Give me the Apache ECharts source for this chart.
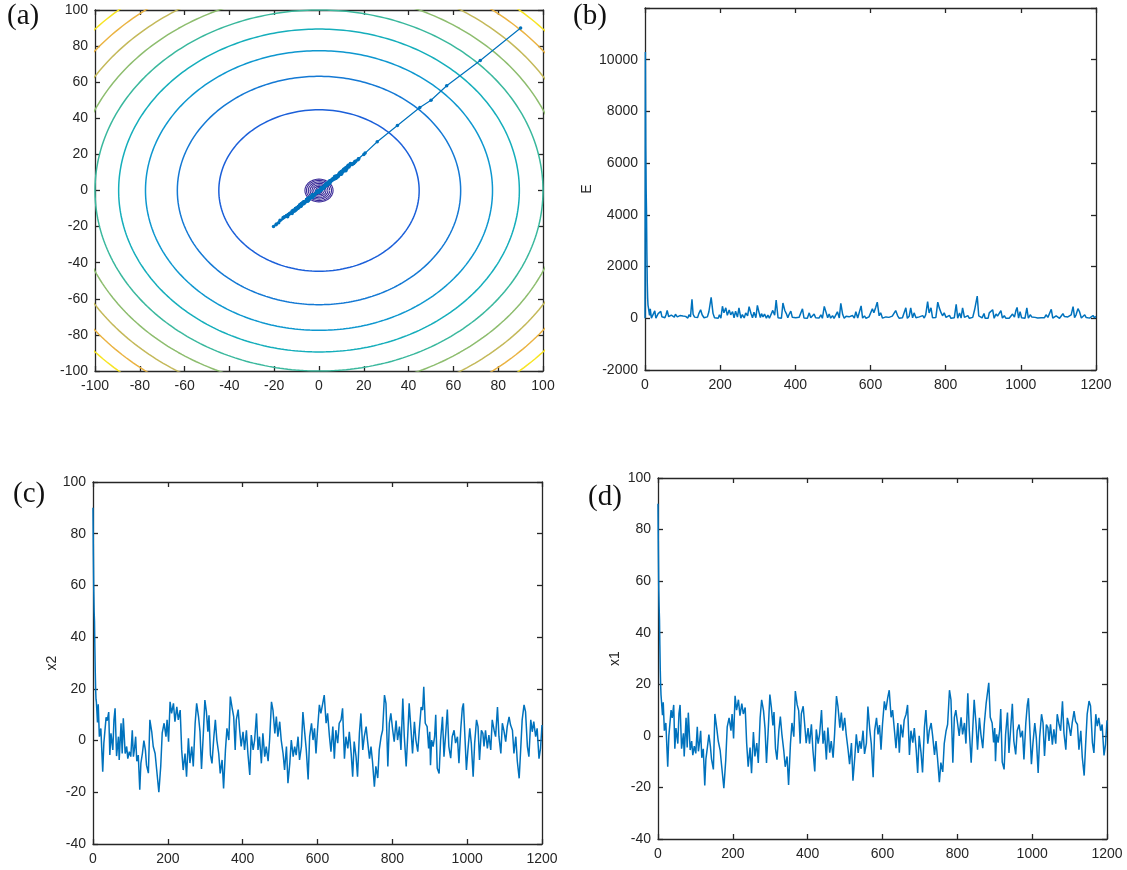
<!DOCTYPE html>
<html><head><meta charset="utf-8">
<script src="https://cdn.jsdelivr.net/npm/echarts@6/dist/echarts.min.js"></script>
<style>html,body{margin:0;padding:0;background:#fff}#c{width:1127px;height:870px}</style>
</head><body><div id="c"></div>
<script>
// ---------- data ----------
const iters = [0,1,2,3,4,5,6,7,8,9,12,14,17,21,26,29,35,38,42,45,48,53,56,59,63,68,70,75,78,81,86,90,93,97,101,105,108,111,114,117,121,125,128,132,136,140,143,148,152,157,161,166,170,176,181,185,190,195,198,202,206,210,215,219,224,228,233,237,241,246,250,255,259,264,268,273,277,282,286,290,295,299,303,307,310,314,318,323,327,331,336,340,345,349,354,358,363,367,372,376,380,383,388,392,396,401,405,410,414,419,423,428,432,437,441,445,450,454,459,463,468,472,477,481,486,490,494,499,503,508,512,517,521,526,530,535,539,543,548,552,557,561,566,570,575,579,584,588,592,596,600,605,609,614,618,623,627,632,636,641,645,649,654,658,663,667,672,676,681,685,690,694,698,703,707,712,716,721,725,730,734,739,743,747,752,756,761,765,770,774,779,783,788,792,796,801,805,810,814,819,823,828,832,837,841,845,850,854,859,863,868,872,877,881,884,888,893,897,900,902,905,909,913,916,920,925,929,934,938,943,947,951,956,960,965,969,974,978,983,987,990,994,998,1002,1007,1011,1016,1020,1025,1029,1033,1038,1042,1045,1049,1054,1058,1063,1067,1072,1076,1081,1085,1090,1094,1098,1103,1107,1112,1116,1121,1125,1130,1134,1139,1143,1147,1152,1156,1161,1165,1170,1174,1178,1183,1187,1192,1196,1200];

const x2 = [90,72,58,50,46,36,27,20,16,15,
7,14,1.5,4.7,-12,-1,9,7.7,11,-5.6,
2.8,-3.6,8,12.5,-6,1.5,-7.5,6.7,-5,8.6,
-5,-2.3,-7,-4.3,-6.2,4,-6.2,-3,1.5,-8,
-5.6,-19,-8.7,-5,0,-3.6,-9.5,-12.6,8,3.4,
-2.3,-5,-11,-20,-10,3,6.7,1.5,8,-0.4,
15,10.5,14.4,7.3,13,8,11.8,-3.6,-11.4,-5,
-14,0.9,-8.7,-2.3,-10,6.7,14.4,9.3,3.4,-11,
3,15.7,11.3,3.4,9.8,-5.6,-8.8,1.5,8,0.2,
-5,-12.7,-7.5,-18.5,-3.6,4.7,0.2,17,12.5,9.3,
-3.6,8,12,4,-2.3,3.4,-3.6,4,-5,-13.3,
2.1,-3.6,0.2,10.5,-3.6,1.5,-8.8,2.8,-6.2,-2.3,
-8,0.2,15,11.8,2.8,9.3,1.5,7.3,0.2,-5,
-11.4,-2.3,-16.5,-8.7,0.2,-6.2,-2.3,-5.6,1.5,-7.5,
-2.3,11,2.8,-3.6,-15,1.5,6.7,0.2,4.7,-5,
4,13.8,10.5,14.4,17.6,6.7,10.5,1.5,-4.3,5.4,
-7,4,-1,6.7,8,12.5,-7,1.5,-3,3.4,
-5,-14,-0.4,-6.2,-14,2.8,10.5,-3.6,1.5,5.4,
-0.4,-7,-2.3,-8.1,-17.8,-10,-14.5,-3.6,1.5,4,
17.6,14.4,-10,6.7,10.5,4,-0.4,7.7,0.2,5.4,
-3.6,16.3,1.5,-10,1.5,14.4,4,-5,7.3,0.2,
-4.3,4,13,11.8,20.8,6.7,5.4,-3,3.4,-9.5,
0.2,-2.3,1.5,10,-10.7,-12.7,0.2,9.2,-6.2,3.4,
12,-2.3,-6.8,1.5,4,-1,1.5,-8.8,4.7,12.5,
14.4,1.5,-11.4,-3.6,4.7,-1,-14,-1,8,5.4,
-7.5,4,2.8,-2.3,4,-3,2.1,-3.6,8,4,
1.5,13,1.5,-5,6.7,4,-0.4,5.4,9.2,6,
4,-5,1.5,-8,-14.6,-3.6,8,13.8,11.2,-2.3,
-6.2,8,3.4,7.3,1.5,4.7,-7,-3,6];

const x1 = [90,72,57,50,45,35,26,20,16,14,
8,13,2,5,-12,0,10,7,12,-5,
3,-3,8.5,12,-5,1,-8,7,-4.5,9,
-5.5,-2,-7.5,-4,-6.8,3.5,-6,-2.5,2,-8.5,
-5,-19.2,-9,-4.5,0.5,-4,-9,-13,8.5,3,
-2,-5.5,-11.5,-20.3,-9.5,3.5,7,2,8.5,-1,
15.5,10,14,7.8,12.5,8.5,11,-3,-12,-4.5,
-14.5,1.5,-8,-2.8,-10.5,7,14,9.8,3,-10.5,
3.5,16,11,4,9.2,-5,-9.2,2,7.5,0.8,
-5.5,-12,-8,-19,-3,5,-0.3,17.4,12,9.8,
-3,8.5,11.5,4.5,-2.8,3,-3,4.5,-5.5,-13.8,
2.5,-3,0.8,10,-3,2,-9.2,3.2,-6.5,-2,
-8.5,0.8,15.4,11.3,3.2,9,2,7,0.6,-5.4,
-11,-2.8,-17.4,-8.2,0.6,-6.6,-2,-5,2,-7,
-2.8,11.4,2.4,-3,-16,2,7,0.6,4.2,-5.4,
4.5,13.4,10,14.8,17.7,7.2,10,2,-4.8,5,
-6.5,4.4,-0.6,6.2,8.4,12,-7.4,2,-2.6,3,
-5.4,-14.4,0,-6.6,-14.2,3.2,10,-3,2,5,
0,-7.4,-2,-8.6,-18,-10.4,-14,-3,2,4.4,
17.7,14,-10.4,7.2,10,4.5,0,7.2,0.6,5,
-3,16.5,2,-10.4,2,14,4.5,-5.4,7,0.6,
-4.8,4.5,12.6,12.2,20.6,7.2,5,-2.6,3,-9.8,
0.6,-2.6,2,10.4,-10.2,-13,0.6,9,-6.6,3.8,
12.4,-2,-7.2,2,4.4,-0.6,2,-9.2,5,12,
14.6,2,-11,-3,5,-0.6,-14.4,-0.6,8.4,5,
-7.8,4.4,3.2,-2,4.5,-3.4,2.5,-3,8.4,4.4,
2,13.4,1,-5.4,7,4.4,0,5,9.6,5.6,
4.4,-5.4,2,-8.4,-15.4,-3,8.4,13.5,11.6,-2.6,
-6.6,8.4,3.8,7,2,4.4,-7.6,-3.4,6];

const E = [0,10300,6650,5000,4150,2520,1400,800,510,420,
113,365,6,47,288,1,181,108,265,56,
17,22,136,300,61,3,120,94,45,155,
55,9,105,34,85,28,74,15,6,136,
56,730,157,45,0,29,171,328,136,21,
9,55,253,812,190,21,94,6,136,1,
465,210,403,114,325,136,260,22,274,45,
406,3,140,13,210,94,450,183,21,231,
21,502,249,28,181,56,162,6,120,1,
55,305,120,703,22,47,0,592,300,183,
22,136,276,36,13,21,22,36,55,367,
11,22,1,210,22,6,162,18,81,9,
136,1,462,267,18,168,6,102,0,54,
251,13,575,143,0,82,9,56,6,105,
13,251,14,22,481,6,94,0,40,54,
36,370,210,426,623,97,210,6,42,54,
91,35,1,83,135,300,104,6,16,21,
54,403,0,82,398,18,210,22,6,54,
0,104,9,140,641,208,406,22,6,35,
623,403,208,97,210,36,0,111,0,54,
22,538,6,208,6,403,36,54,102,0,
42,36,328,288,857,97,54,16,21,186,
0,12,6,208,219,330,0,166,82,26,
298,9,98,6,35,1,6,162,47,300,
421,6,251,22,47,1,403,1,135,54,
117,35,18,9,36,21,11,22,135,35,
6,348,3,54,94,35,0,54,177,67,
35,54,6,135,450,22,135,373,260,12,
82,135,26,102,6,41,107,21,72];

const contourLevels = [2000,4000,6000,8000,10000,12000,14000,16000,18000];
const centerLevels = [0.6,2.6,5.8,10.2,16,23,31.4,39.7];

const axisTicksA = {min:-100, max:100, interval:20};
const axisTicksIter = {min:0, max:1200, interval:200};
const axisTicksE = {min:-2000, max:12000, interval:2000};
const axisTicksX = {min:-40, max:100, interval:20};

// ---------- styling ----------
const contourColors = ['#1b5fd9','#1479d4','#0e97cf','#15aebb','#3ab89d','#8dbd6e','#c4b95a','#eab342','#f7e423'];
const blobColor = '#3b2b98';
const lineColor = '#0072bd';
const axisColor = '#262626';
const labelFont = 'Liberation Sans, Arial, sans-serif';
const plain = v => String(v);

function xAxes(grid, t) {
  const common = {type:'value', gridIndex:grid, min:t.min, max:t.max, interval:t.interval,
    splitLine:{show:false},
    axisLine:{show:true, onZero:false, lineStyle:{color:axisColor, width:1.3}},
    axisTick:{show:true, inside:true, length:5, lineStyle:{color:axisColor, width:1.3}}};
  return [
    Object.assign({}, common, {position:'bottom',
      axisLabel:{show:true, color:axisColor, fontSize:14, fontFamily:labelFont, margin:8, showMinLabel:true, showMaxLabel:true, formatter:plain}}),
    Object.assign({}, common, {position:'top', axisLabel:{show:false}})
  ];
}
function yAxes(grid, t, name, gap, fmt) {
  const common = {type:'value', gridIndex:grid, min:t.min, max:t.max, interval:t.interval,
    splitLine:{show:false},
    axisLine:{show:true, onZero:false, lineStyle:{color:axisColor, width:1.3}},
    axisTick:{show:true, inside:true, length:5, lineStyle:{color:axisColor, width:1.3}}};
  return [
    Object.assign({}, common, {position:'left', name:name||'', nameLocation:'middle', nameGap:gap||0,
      nameTextStyle:{color:axisColor, fontSize:14, fontFamily:labelFont},
      axisLabel:{show:true, color:axisColor, fontSize:14, fontFamily:labelFont, margin:7, showMinLabel:true, showMaxLabel:true,
        formatter: fmt || plain}}),
    Object.assign({}, common, {position:'right', axisLabel:{show:false}})
  ];
}

function circle(level) {
  const r = Math.sqrt(level), pts = [];
  for (let k = 0; k <= 360; k++) {
    const a = k * Math.PI / 180;
    pts.push([r * Math.cos(a), r * Math.sin(a)]);
  }
  return pts;
}

const series = [];
contourLevels.forEach((L, i) => {
  series.push({type:'line', xAxisIndex:0, yAxisIndex:0, data:circle(L), showSymbol:false, clip:true,
    lineStyle:{color:contourColors[i], width:1.5}, silent:true, animation:false, z:2});
});
centerLevels.forEach(L => {
  series.push({type:'line', xAxisIndex:0, yAxisIndex:0, data:circle(L), showSymbol:false, clip:true,
    lineStyle:{color:blobColor, width:1.1}, silent:true, animation:false, z:3});
});
series.push({type:'line', xAxisIndex:0, yAxisIndex:0, data:iters.map((t,i)=>[x1[i], x2[i]]),
  showSymbol:true, symbol:'circle', symbolSize:3.5, itemStyle:{color:lineColor},
  lineStyle:{color:lineColor, width:1.2}, clip:true, animation:false, z:4});
series.push({type:'line', xAxisIndex:2, yAxisIndex:2, data:iters.map((t,i)=>[t, E[i]]),
  showSymbol:false, lineStyle:{color:lineColor, width:1.5}, clip:true, animation:false});
series.push({type:'line', xAxisIndex:4, yAxisIndex:4, data:iters.map((t,i)=>[t, x2[i]]),
  showSymbol:false, lineStyle:{color:lineColor, width:1.5}, clip:true, animation:false});
series.push({type:'line', xAxisIndex:6, yAxisIndex:6, data:iters.map((t,i)=>[t, x1[i]]),
  showSymbol:false, lineStyle:{color:lineColor, width:1.5}, clip:true, animation:false});

const panelLabel = (txt, x, y) => ({type:'text', left:x, top:y,
  style:{text:txt, fill:'#111', font:'29px "Liberation Serif", "Times New Roman", serif'}});

const option = {
  backgroundColor:'#fff',
  animation:false,
  grid:[
    {left:95, top:10, width:448, height:361, outerBoundsMode:'none'},
    {left:645, top:8, width:451, height:362, outerBoundsMode:'none'},
    {left:93, top:482, width:449, height:362, outerBoundsMode:'none'},
    {left:658, top:478, width:449, height:361, outerBoundsMode:'none'}
  ],
  xAxis:[...xAxes(0, axisTicksA), ...xAxes(1, axisTicksIter), ...xAxes(2, axisTicksIter), ...xAxes(3, axisTicksIter)],
  yAxis:[...yAxes(0, axisTicksA), ...yAxes(1, axisTicksE, 'E', 51, v => v === 12000 ? '' : String(v)),
         ...yAxes(2, axisTicksX, 'x2', 34), ...yAxes(3, axisTicksX, 'x1', 36)],
  series:series,
  graphic:[panelLabel('(a)', 7, 2), panelLabel('(b)', 573, 2), panelLabel('(c)', 13, 480), panelLabel('(d)', 588, 483)]
};
const chart = echarts.init(document.getElementById('c'), null, {renderer:'canvas'});
chart.setOption(option);
</script></body></html>
